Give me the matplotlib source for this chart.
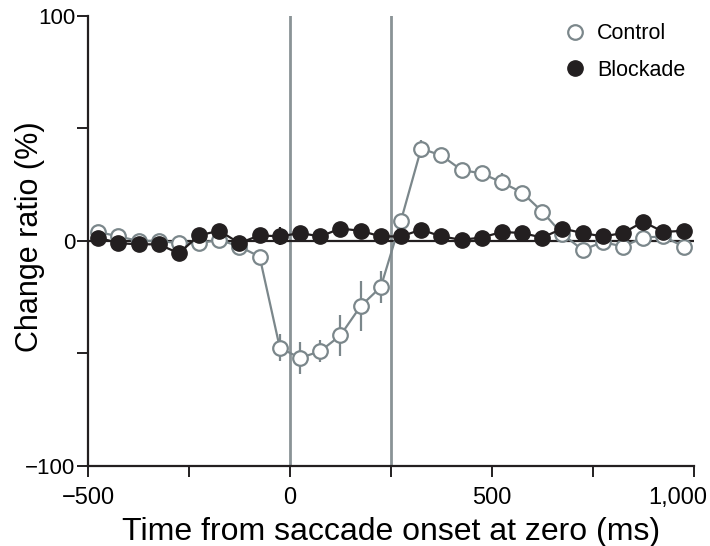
import matplotlib
matplotlib.use("Agg")
import matplotlib.pyplot as plt
import matplotlib.transforms as mtransforms
from matplotlib.lines import Line2D
import numpy as np

plt.rcParams['font.family'] = ['Liberation Sans', 'DejaVu Sans']

# time bins (ms from saccade onset)
time_ms = np.arange(-475, 1000, 50)

control = [4, 2, 0, 0, -1, -1, 0.5, -2.5, -7, -47.5,
           -52, -49, -42, -29, -20.5, 9, 41, 38, 31.5, 30,
           26, 21.5, 13, 3, -4, -0.5, -2.5, 1.5, 2, -2.5]
control_err = [2, 2, 2, 2, 2, 2, 2, 2, 2, 6,
               7, 5, 9, 11, 7, 3, 4, 2, 3, 3,
               4, 3, 2, 2, 2, 2, 2, 3, 2, 2]

blockade = [1.5, -1, -1.5, -1.5, -5.5, 2.5, 4.5, -1, 2.5, 2,
            3.5, 2, 5.5, 4.5, 2, 2, 5, 2, 0.5, 1.5,
            4, 3.5, 1.5, 5.5, 3.5, 2, 3.5, 8.5, 4, 4.5]
blockade_err = [2, 2, 2, 2, 2, 2, 2, 2, 2, 4,
                2, 2, 2, 2, 2, 3, 2, 2, 2, 3,
                3, 2, 2, 2, 2, 2, 2, 2, 2, 3]

event_lines = [0, 250]

x_ticks = [-500, 0, 500, 1000]
x_ticklabels = ["\u2212500", "0", "500", "1,000"]
x_minor = [-250, 250, 750]
y_ticks = [-100, -50, 0, 50, 100]
y_ticklabels = ["\u2212100", "", "0", "", "100"]

gray = "#7b878b"
black = "#231f20"

fig = plt.figure(figsize=(7.10, 5.46), dpi=100)
ax = fig.add_axes([0.124, 0.1465, 0.853, 0.8245])

for xv in event_lines:
    ax.axvline(xv, color="#8a9396", lw=2, zorder=1)
ax.axhline(0, color=black, lw=1.6, zorder=1)

ax.errorbar(time_ms, control, yerr=control_err, fmt="o-", color=gray,
            mfc="white", mec=gray, mew=1.6, ms=10.5, lw=1.6,
            elinewidth=1.6, capsize=0, zorder=3, label="Control")
ax.errorbar(time_ms, blockade, yerr=blockade_err, fmt="o-", color=black,
            mfc=black, mec=black, ms=11, lw=1.6,
            elinewidth=1.6, capsize=0, zorder=4, label="Blockade")

ax.set_xlim(-500, 1000)
ax.set_ylim(-100, 100)
ax.set_xticks(x_ticks)
ax.set_xticklabels(x_ticklabels)
ax.set_xticks(x_minor, minor=True)
ax.set_yticks(y_ticks)
ax.set_yticklabels(y_ticklabels)

for s in ("top", "right"):
    ax.spines[s].set_visible(False)
for s in ("left", "bottom"):
    ax.spines[s].set_color(black)
    ax.spines[s].set_linewidth(1.6)

ax.tick_params(axis="both", which="both", direction="out", length=8,
               width=1.4, color=black)
ax.tick_params(axis="x", labelsize=17, pad=7)
ax.tick_params(axis="y", labelsize=16, pad=1)

# last x label is pulled in from the right edge, as in the original
last = ax.get_xticklabels()[-1]
last.set_transform(last.get_transform() +
                   mtransforms.ScaledTranslation(-0.16, 0, fig.dpi_scale_trans))

ax.set_xlabel("Time from saccade onset at zero (ms)", fontsize=23)
ax.xaxis.set_label_coords(0.5, -0.113)
ax.set_ylabel("Change ratio (%)", fontsize=22)
ax.yaxis.set_label_coords(-0.071, 0.51)

h_ctrl = Line2D([], [], marker="o", ls="none", mfc="white", mec=gray, mew=1.6, ms=10.5)
h_blk = Line2D([], [], marker="o", ls="none", mfc=black, mec=black, ms=11)
ax.legend([h_ctrl, h_blk], ["Control", "Blockade"], loc="upper right",
          bbox_to_anchor=(1.018, 1.027), frameon=False, fontsize=15.5,
          handletextpad=0.4, labelspacing=0.72, handlelength=1.2)

fig.savefig("out.png", dpi=100)
